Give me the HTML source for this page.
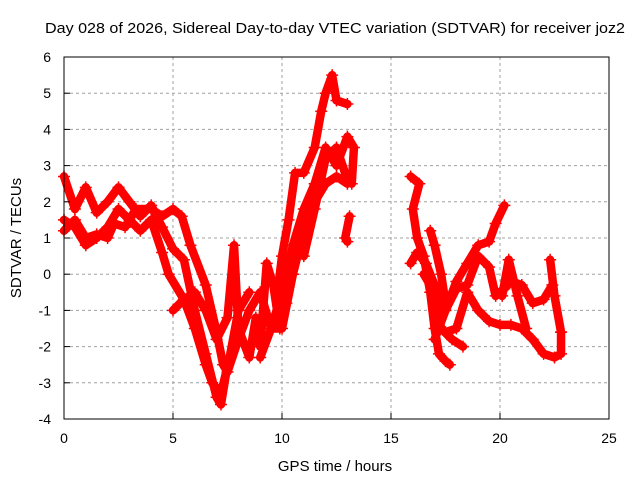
<!DOCTYPE html>
<html><head><meta charset="utf-8"><style>
body{margin:0;background:#fff}
svg{display:block;font-family:"Liberation Sans",sans-serif}
</style></head><body>
<svg id="chart" width="640" height="480">
<rect width="640" height="480" fill="#fff"/>
<g id="grid"></g>
<g id="series"></g>
<rect x="64" y="57" width="545" height="362" fill="none" stroke="#000" stroke-width="1"/>
<g id="axes"></g>
<text x="45" y="33" textLength="580" lengthAdjust="spacingAndGlyphs" font-size="15" fill="#000">Day 028 of 2026, Sidereal Day-to-day VTEC variation (SDTVAR) for receiver joz2</text>
<text x="335" y="471" text-anchor="middle" font-size="15" fill="#000">GPS time / hours</text>
<text transform="translate(21,238) rotate(-90)" text-anchor="middle" font-size="15" fill="#000">SDTVAR / TECUs</text>
</svg>
<script>
const xTicks=[0,5,10,15,20,25];
const yTicks=[-4,-3,-2,-1,0,1,2,3,4,5,6];
const trackA=[[0,2.7],[0.5,1.8],[1,2.4],[1.5,1.7],[2,2.0],[2.5,2.4],[3,2.0],[3.5,1.6],[4,1.9],[4.5,1.3],[5,0.7],[5.5,0.4],[6,-1.0],[6.5,-2.2],[7,-3.4],[7.2,-3.6],[7.5,-2.5],[8,-1.5]];
const trackB=[[0,1.2],[0.5,1.5],[1,1.0],[1.5,1.1],[2,1.0],[2.3,1.4],[2.8,1.3],[3.3,1.8],[4,1.8],[4.5,1.6],[5,1.8],[5.4,1.6],[5.8,0.8],[6.5,-0.3],[7,-1.6],[7.3,-2.5],[7.5,-2.7],[8,-1.8],[8.5,-1.0],[9,-0.5],[9.5,-1.5],[10,-1.5],[10.5,0],[11,1.2],[11.5,2.0],[12,2.5],[12.5,2.7],[13,2.5]];
const trackC=[[0,1.5],[0.5,1.3],[1,0.8],[1.5,1.0],[2,1.3],[2.5,1.8],[3,1.5],[3.5,1.2],[4,1.5],[4.5,0.6],[4.8,0],[5.5,-0.7],[6,-1.5],[6.5,-2.5],[6.8,-3.0],[7.2,-3.3],[7.6,-2.3],[8,-1.0],[8.5,-0.5]];
const trackD=[[5,-1.0],[5.5,-0.7],[6,-0.5],[6.5,-1.0],[7,-1.8],[7.5,-1.2],[7.8,0.8],[8,-1.5],[8.5,-2.3],[8.8,-1.2],[9,-2.0],[9.3,0.3],[9.6,-0.3],[9.9,-1.5],[10.2,-0.8]];
const trackE=[[9.8,-0.5],[10,0.5],[10.3,1.5],[10.6,2.8],[11,2.8],[11.5,3.5],[11.8,4.5],[12,5.0],[12.3,5.5],[12.5,4.8],[13,4.7]];
const trackF=[[9,-2.3],[9.5,-1.5],[10,-0.5],[10.5,0.8],[11,1.8],[11.5,2.5],[12,3.5],[12.5,3.0],[13,3.8],[13.3,3.5],[13.2,2.5]];
const trackG=[[11,0.5],[11.5,1.8],[12,3.2],[12.5,3.5],[13,2.6]];
const trackH=[[13.1,1.6],[12.9,1.0],[13,0.9]];
const trackI=[[15.9,2.7],[16.3,2.5],[16,1.8],[16.2,1.0],[16.5,0.5],[16.8,-0.5],[17,-1.5],[17.2,-2.2],[17.5,-2.4],[17.7,-2.5]];
const trackJ=[[15.9,0.3],[16.2,0.6],[16.6,0.3],[17,-0.3],[17.5,-1.0],[18,-0.2],[18.5,0.3],[19,0.8],[19.5,0.9],[19.8,1.4],[20.2,1.9]];
const trackK=[[17,-1.8],[17.5,-1.0],[18,-0.4],[18.5,-0.3],[19,0.5],[19.5,0.2],[19.8,-0.6],[20.2,-0.4],[20.5,-0.2],[21,-0.3],[21.5,-0.8],[22,-0.7],[22.4,-0.3]];
const trackL=[[17.5,-1.6],[18,-1.5],[18.5,-0.5],[19,-1.0],[19.5,-1.3],[20,-1.4],[20.5,-1.4],[21,-1.5],[21.5,-1.8],[22,-2.2],[22.5,-2.3],[22.8,-2.2],[22.8,-1.6]];
const trackM=[[16.5,0],[17,-0.5],[17.3,-1.5],[17.8,-1.8],[18.3,-2.0]];
const trackN=[[16.8,1.2],[17,0.8],[17.3,0],[17.5,-0.8]];
const trackO=[[20.1,-0.6],[20.4,0.4],[20.8,-0.6],[21.2,-1.5]];
const trackP=[[22.3,0.4],[22.5,-0.6],[22.8,-1.6]];
const tracks=[trackA,trackB,trackC,trackD,trackE,trackF,trackG,trackH,trackI,trackJ,trackK,trackL,trackM,trackN,trackO,trackP];

const NS="http://www.w3.org/2000/svg";
const X0=64,X1=609,Y0=419,Y1=57;
const xs=h=>X0+(h-0)/(25-0)*(X1-X0);
const ys=v=>Y0-(v+4)/(6+4)*(Y0-Y1);
function mk(tag,attrs,parent){const e=document.createElementNS(NS,tag);for(const k in attrs)e.setAttribute(k,attrs[k]);parent.appendChild(e);return e;}
const grid=document.getElementById('grid'),axes=document.getElementById('axes'),ser=document.getElementById('series');
xTicks.forEach(t=>{
  const x=xs(t);
  if(t>0&&t<25){const g=mk('line',{x1:x,x2:x,y1:Y1,y2:Y0,stroke:'#a0a0a0','stroke-dasharray':'3,3'},grid);
  
  }
  mk('line',{x1:x,x2:x,y1:Y0,y2:Y0-6,stroke:'#000'},axes);
  const l=mk('text',{x:x,y:Y0+24,'text-anchor':'middle','font-size':14},axes);l.textContent=t;
  
  
});
yTicks.forEach(t=>{
  const y=ys(t);
  if(t>-4&&t<6){const g=mk('line',{x1:X0,x2:X1,y1:y,y2:y,stroke:'#a0a0a0','stroke-dasharray':'3,3'},grid);
  
  }
  mk('line',{x1:X0,x2:X0+6,y1:y,y2:y,stroke:'#000'},axes);
  const l=mk('text',{x:X0-13,y:y+5,'text-anchor':'end','font-size':14},axes);l.textContent=t;
  
  
});
tracks.forEach((tr,i)=>{
  const pts=tr.map(p=>xs(p[0])+','+ys(p[1])).join(' ');
  const pl=mk('polyline',{points:pts,fill:'none',stroke:'#ff0000','stroke-width':8.5,'stroke-linejoin':'round','stroke-linecap':'round'},ser);
  
  
  tr.forEach(p=>{
    const x=xs(p[0]),y=ys(p[1]);
    const m=mk('path',{d:`M${x-6},${y}H${x+6}M${x},${y-6}V${y+6}`,stroke:'#ff0000','stroke-width':1.5},ser);
    
    
  });
});
</script>
</body></html>
